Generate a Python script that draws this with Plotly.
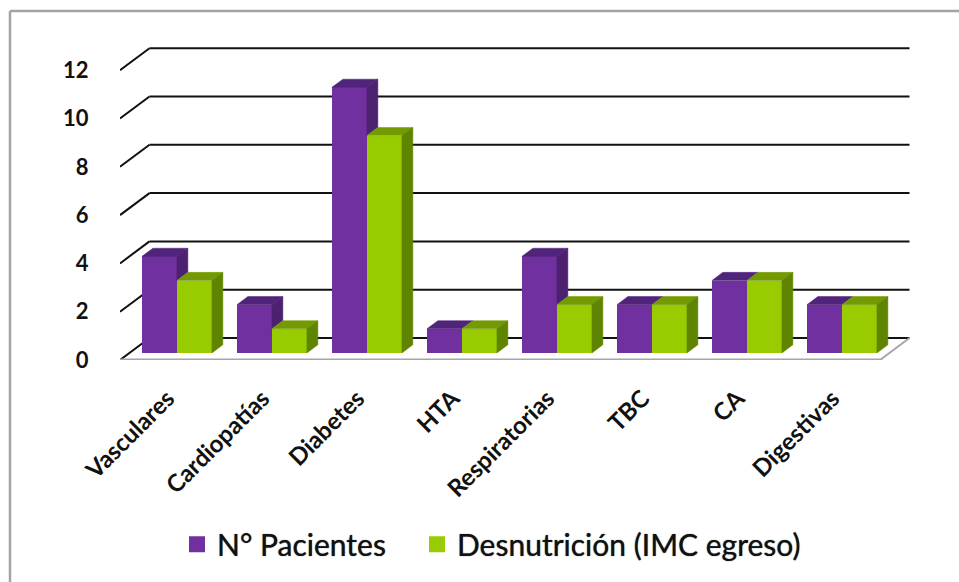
import plotly.graph_objects as go

categories = ["Vasculares", "Cardiopatías", "Diabetes", "HTA", "Respiratorias", "TBC", "CA", "Digestivas"]
pacientes = [4, 2, 11, 1, 4, 2, 3, 2]
desnutricion = [3, 1, 9, 1, 2, 2, 3, 2]
y_ticks = [0, 2, 4, 6, 8, 10, 12]
name_a = "N° Pacientes"
name_b = "Desnutrición (IMC egreso)"

FONT = "Lato, 'Open Sans', sans-serif"
PURPLE, PURPLE_TOP, PURPLE_SIDE = "#7030A0", "#50247A", "#4C2270"
GREEN, GREEN_TOP, GREEN_SIDE = "#99CC00", "#739A00", "#5F8500"

PX_X, PX_Y = 95.0, 24.15
DX, DY = 29.5 / PX_X, 22.0 / PX_Y
n = len(categories)
BAR_W = 35 / PX_X
D0, D1 = 0.32, 0.69


def poly(xs, ys, color):
    return go.Scatter(x=xs + xs[:1], y=ys + ys[:1], mode="lines", fill="toself", fillcolor=color,
                      line=dict(width=0.5, color=color), hoverinfo="skip", showlegend=False)


fig = go.Figure()
base = D0 * DY
off = D0 * DX
centers = [i + 0.5 + off for i in range(n)]
fig.add_bar(x=[c - BAR_W / 2 for c in centers], y=pacientes, base=base, width=BAR_W, name=name_a,
            showlegend=False, marker=dict(color=PURPLE, line=dict(width=0)))
fig.add_bar(x=[c + BAR_W / 2 for c in centers], y=desnutricion, base=base, width=BAR_W, name=name_b,
            showlegend=False, marker=dict(color=GREEN, line=dict(width=0)))

ddx, ddy = (D1 - D0) * DX, (D1 - D0) * DY
for c, a, b in zip(centers, pacientes, desnutricion):
    ya, yb = a + base, b + base
    l, m, r = c - BAR_W, c, c + BAR_W
    fig.add_trace(poly([l, m, m + ddx, l + ddx], [ya, ya, ya + ddy, ya + ddy], PURPLE_TOP))
    if a > b:
        fig.add_trace(poly([m, m + ddx, m + ddx, m], [ya, ya + ddy, yb + ddy, yb], PURPLE_SIDE))
    fig.add_trace(poly([m, r, r + ddx, m + ddx], [yb, yb, yb + ddy, yb + ddy], GREEN_TOP))
    fig.add_trace(poly([r, r + ddx, r + ddx, r], [yb, yb + ddy, base + ddy, base], GREEN_SIDE))

fig.add_trace(go.Scatter(x=[None], y=[None], mode="markers", name=name_a, legend="legend",
                         marker=dict(symbol="square", size=16, color=PURPLE)))
fig.add_trace(go.Scatter(x=[None], y=[None], mode="markers", name=name_b, legend="legend2",
                         marker=dict(symbol="square", size=16, color=GREEN)))

shapes = []
x_end = n
shapes.append(dict(type="path", layer="below", fillcolor="white", line=dict(width=0),
                   path=f"M0,0 L{x_end},0 L{x_end + DX},{DY} L{DX},{DY} Z"))
for v in y_ticks:
    shapes.append(dict(type="line", layer="below", x0=0, y0=v, x1=DX, y1=v + DY, line=dict(color="#111", width=2)))
    shapes.append(dict(type="line", layer="below", x0=DX, y0=v + DY, x1=x_end + DX, y1=v + DY,
                       line=dict(color="#111", width=2)))
shapes.append(dict(type="line", layer="below", x0=0, y0=0, x1=x_end, y1=0, line=dict(color="#A6A6A6", width=3)))
shapes.append(dict(type="line", layer="below", x0=x_end, y0=0, x1=x_end + DX, y1=DY, line=dict(color="#A6A6A6", width=2)))
frame = dict(type="line", xref="paper", yref="paper", layer="below", xsizemode="pixel", ysizemode="pixel",
             xanchor=0, yanchor=0, line=dict(color="#A3A3A3", width=2.5))
shapes.append(dict(frame, x0=-110, x1=-110, y0=-222, y1=349))
shapes.append(dict(frame, x0=-110, x1=839, y0=349, y1=349))

LEG_FONT = dict(size=30, family=FONT, color="#111", shadow="0 0 1px #333")
fig.update_layout(
    width=959, height=582, paper_bgcolor="white", plot_bgcolor="white",
    margin=dict(l=120, r=49, t=40, b=222, autoexpand=False),
    barmode="overlay", bargap=0, shapes=shapes, font=dict(family=FONT, color="#111"),
    hovermode=False,
    xaxis=dict(range=[0, 790 / PX_X], tickmode="array", tickvals=[i + 0.5 for i in range(n)], ticktext=categories,
               tickangle=-45, ticks="outside", ticklen=14, tickcolor="rgba(0,0,0,0)",
               tickfont=dict(size=24, family=FONT, color="#111", weight="bold"),
               showgrid=False, zeroline=False, showline=False),
    yaxis=dict(range=[0, 320 / PX_Y], tickmode="array", tickvals=y_ticks, ticks="outside", ticklen=26,
               tickcolor="rgba(0,0,0,0)", tickfont=dict(size=22, family=FONT, color="#111", weight="bold"),
               showgrid=False, zeroline=False, showline=False),
    legend=dict(orientation="h", x=177 / 959, xanchor="left", xref="container", y=0.065, yanchor="middle",
                yref="container", font=LEG_FONT, itemclick=False),
    legend2=dict(orientation="h", x=417 / 959, xanchor="left", xref="container", y=0.065, yanchor="middle",
                 yref="container", font=LEG_FONT, itemclick=False),
)
fig.write_html("out.html", post_script="document.body.style.margin='0';", config=dict(displayModeBar=False))
